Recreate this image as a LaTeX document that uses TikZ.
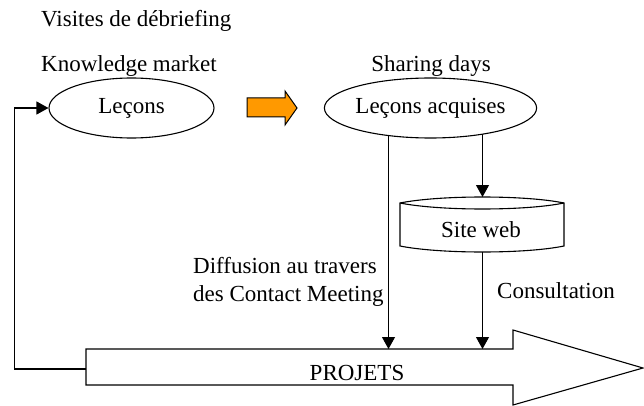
\documentclass[tikz,border=0pt]{standalone}
\usepackage{fontspec}
\setmainfont{Liberation Serif}
\usetikzlibrary{arrows.meta,shapes.geometric,calc}
\pgfdeclarelayer{bg}
\pgfsetlayers{bg,main}
\definecolor{flowor}{RGB}{255,153,0}
\begin{document}
\begin{tikzpicture}[x=1pt,y=-1pt,
  every node/.style={font=\fontsize{23}{28}\selectfont, inner sep=0pt},
  lw/.style={line width=1.1pt},
  conn/.style={lw, -{Triangle[width=13pt,length=12pt]}},
  wobble/.style={ellipse, draw, lw, fill=white},
  txt/.style={anchor=base west}]
\useasboundingbox (0,0) rectangle (644,406);

% ellipses
\node[wobble, minimum width=165pt, minimum height=60pt] (lecons) at (131.5,108) {Leçons};
\node[wobble, minimum width=175pt, minimum height=60pt] (acq) at (430.5,108) {Leçons acquises};

% titles
\node[txt] (vis) at (41,27) {Visites de débriefing};
\node[txt] (km) at (41,72) {Knowledge market};
\node[anchor=base] (share) at (431,72) {Sharing days};

% orange arrow
\draw[line width=1pt, fill=flowor] (247,98) -- (285,98) -- (285,91) -- (297,108)
  -- (285,125) -- (285,117) -- (247,117) -- cycle;

% site web drum
\draw[lw, fill=white] (400,203) .. controls (440,195) and (525,195) .. (564,203)
  -- (564,246) .. controls (525,254) and (440,254) .. (400,246) -- cycle;
\draw[lw] (400,203) .. controls (440,211) and (525,211) .. (564,203);
\node[anchor=base] (web) at (481,237) {Site web};
\coordinate (webtop) at (482.5,197);
\coordinate (webbot) at (482.5,252);

% big arrow
\draw[lw, fill=white] (86,349) -- (513,349) -- (513,330) -- (643,368) -- (513,405)
  -- (513,385) -- (86,385) -- cycle;
\node[anchor=base] (proj) at (357,380) {PROJETS};
\coordinate (ptop) at (86,349);
\coordinate (pleft) at (86,369);
\coordinate (loop) at (14.5,369);

% connectors
\coordinate (a1) at ($(acq.center)+(-42,0)$);
\coordinate (a2) at ($(acq.center)+(52,0)$);
\begin{pgfonlayer}{bg}
\draw[conn] (a1) -- (a1 |- ptop);
\draw[conn] (a2) -- (webtop);
\end{pgfonlayer}
\draw[conn] (webbot) -- (webbot |- ptop);
\draw[conn] (pleft) -- (loop) |- (lecons.west);

% labels
\node[anchor=west, align=left] (diff) at (193,282) {Diffusion au travers\\des Contact Meeting};
\node[txt] (consult) at (497,298) {Consultation};
\end{tikzpicture}
\end{document}
